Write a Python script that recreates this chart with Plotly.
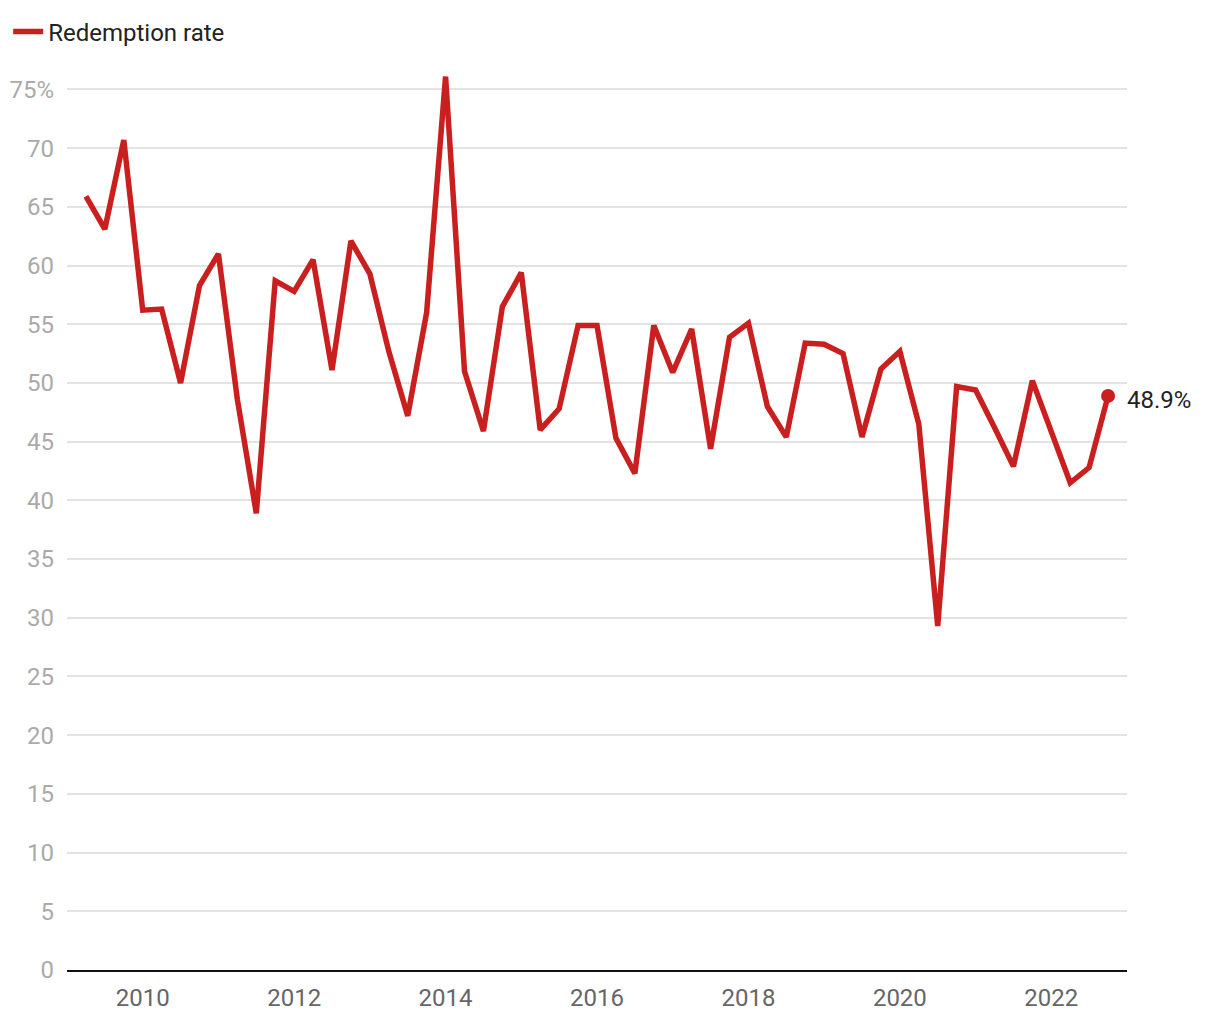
import plotly.graph_objects as go

start_year = 2009.25
step = 0.25
rates = [65.9, 63.1, 70.7, 56.2, 56.3, 50.0, 58.3, 61.0, 48.6, 38.9,
         58.7, 57.8, 60.5, 51.1, 62.1, 59.3, 52.7, 47.2, 56.0, 76.1,
         51.0, 45.9, 56.5, 59.4, 46.0, 47.8, 54.9, 54.9, 45.3, 42.3,
         54.9, 50.9, 54.6, 44.4, 53.9, 55.1, 48.0, 45.4, 53.4, 53.3,
         52.5, 45.4, 51.2, 52.7, 46.5, 29.3, 49.7, 49.4, 46.2, 42.9,
         50.2, 45.9, 41.5, 42.8, 48.9]
periods = [start_year + step * i for i in range(len(rates))]

x_tickvals = [2010, 2012, 2014, 2016, 2018, 2020, 2022]
x_ticktext = ["2010", "2012", "2014", "2016", "2018", "2020", "2022"]
y_tickvals = [0, 5, 10, 15, 20, 25, 30, 35, 40, 45, 50, 55, 60, 65, 70, 75]
y_ticktext = ["0", "5", "10", "15", "20", "25", "30", "35", "40", "45",
              "50", "55", "60", "65", "70", "75%"]
series_name = "Redemption rate"
last_label = "48.9%"

RED = "#c91f1f"
FONT = "Roboto"

fig = go.Figure()
fig.add_trace(go.Scatter(
    x=periods, y=rates, mode="lines", name=series_name,
    line=dict(color=RED, width=5.5), showlegend=True,
))
fig.add_trace(go.Scatter(
    x=[periods[-1]], y=[rates[-1]], mode="markers",
    marker=dict(color=RED, size=14),
    showlegend=False, cliponaxis=False,
))
fig.add_annotation(
    x=periods[-1], y=rates[-1], text=last_label, showarrow=False,
    xanchor="left", yanchor="middle", xshift=17, yshift=-4,
    font=dict(family=FONT, size=24, color="#222222"),
)

fig.update_layout(
    width=1204, height=1004,
    margin=dict(l=59, r=85, t=58, b=42, autoexpand=False),
    paper_bgcolor="white", plot_bgcolor="white",
    font=dict(family=FONT, size=24),
    legend=dict(
        x=-0.0555, y=1.0376, xanchor="left", yanchor="middle",
        orientation="h",
        font=dict(family=FONT, size=24, color="#222222"),
        itemwidth=30,
    ),
)
fig.update_xaxes(
    range=[2009.0, 2023.0],
    tickvals=x_tickvals, ticktext=x_ticktext,
    showgrid=False, zeroline=False,
    showline=True, linecolor="#111111", linewidth=2,
    tickfont=dict(family=FONT, size=24, color="#666666"),
    ticks="", ticklabelstandoff=5,
)
fig.update_yaxes(
    range=[0, 77],
    tickvals=y_tickvals, ticktext=y_ticktext,
    showgrid=True, gridcolor="#e3e3e3", gridwidth=1.5,
    zeroline=False, showline=False,
    tickfont=dict(family=FONT, size=24, color="#aaaaaa"),
    ticks="", ticklabelstandoff=12,
)

fig.write_html("out.html")
